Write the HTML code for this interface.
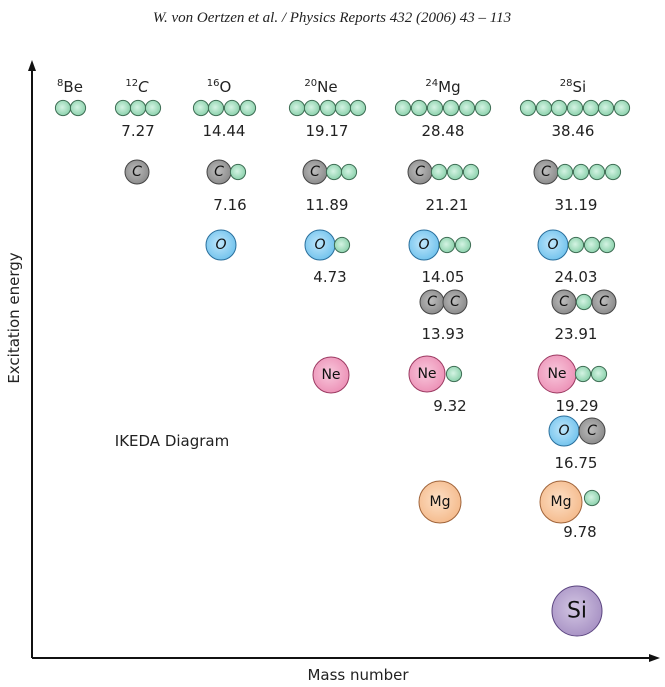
<!DOCTYPE html>
<html><head><meta charset="utf-8"><style>
html,body{margin:0;padding:0;background:#fff;width:665px;height:687px;overflow:hidden}
svg{display:block}
.t{font-family:"DejaVu Sans","Liberation Sans",sans-serif;font-size:15px;fill:#222;text-anchor:middle}
.c{font-family:"DejaVu Sans","Liberation Sans",sans-serif;font-style:italic;font-size:14px;fill:#111;text-anchor:middle;dominant-baseline:central}
</style></head><body>
<svg width="665" height="687" viewBox="0 0 665 687" xmlns="http://www.w3.org/2000/svg">
<defs>
<radialGradient id="ga" cx="0.45" cy="0.45" r="0.6"><stop offset="0" stop-color="#d4f3e3"/><stop offset="1" stop-color="#86cfa8"/></radialGradient>
<radialGradient id="gc" cx="0.45" cy="0.45" r="0.6"><stop offset="0" stop-color="#bdbdbd"/><stop offset="1" stop-color="#888"/></radialGradient>
<radialGradient id="go" cx="0.45" cy="0.45" r="0.6"><stop offset="0" stop-color="#bfe6fb"/><stop offset="1" stop-color="#6ec1ec"/></radialGradient>
<radialGradient id="gn" cx="0.45" cy="0.45" r="0.6"><stop offset="0" stop-color="#f8c8dc"/><stop offset="1" stop-color="#ec8fb5"/></radialGradient>
<radialGradient id="gm" cx="0.45" cy="0.45" r="0.6"><stop offset="0" stop-color="#fde0c6"/><stop offset="1" stop-color="#f4b98a"/></radialGradient>
<radialGradient id="gs" cx="0.45" cy="0.45" r="0.6"><stop offset="0" stop-color="#d3c6e3"/><stop offset="1" stop-color="#a690c3"/></radialGradient>
<circle id="a" r="7.6" fill="url(#ga)" stroke="#3f6e55" stroke-width="1"/>
</defs>
<text x="332" y="22" font-family="Liberation Serif,serif" font-style="italic" font-size="15" text-anchor="middle" fill="#222">W. von Oertzen et al. / Physics Reports 432 (2006) 43 – 113</text>
<!-- axes -->
<line x1="32" y1="658" x2="32" y2="68" stroke="#111" stroke-width="2"/>
<polygon points="32,60 28,71 36,71" fill="#111"/>
<line x1="32" y1="658" x2="652" y2="658" stroke="#111" stroke-width="2"/>
<polygon points="660,658 649,654 649,662" fill="#111"/>
<text class="t" transform="translate(19,318) rotate(-90)" font-size="14">Excitation energy</text>
<text class="t" x="358" y="680" font-size="14">Mass number</text>
<text class="t" x="172" y="446" font-size="14">IKEDA Diagram</text>
<!-- headers -->
<text class="t" x="70" y="92"><tspan font-size="10" dy="-6">8</tspan><tspan dy="6">Be</tspan></text>
<text class="t" x="137" y="92"><tspan font-size="10" dy="-6">12</tspan><tspan dy="6" font-style="italic">C</tspan></text>
<text class="t" x="219" y="92"><tspan font-size="10" dy="-6">16</tspan><tspan dy="6">O</tspan></text>
<text class="t" x="321" y="92"><tspan font-size="10" dy="-6">20</tspan><tspan dy="6">Ne</tspan></text>
<text class="t" x="443" y="92"><tspan font-size="10" dy="-6">24</tspan><tspan dy="6">Mg</tspan></text>
<text class="t" x="573" y="92"><tspan font-size="10" dy="-6">28</tspan><tspan dy="6">Si</tspan></text>
<!-- row1 alpha chains -->
<use href="#a" x="63" y="108"/><use href="#a" x="78" y="108"/>
<use href="#a" x="123" y="108"/><use href="#a" x="138" y="108"/><use href="#a" x="153" y="108"/>
<use href="#a" x="201" y="108"/><use href="#a" x="216" y="108"/><use href="#a" x="232" y="108"/><use href="#a" x="248" y="108"/>
<use href="#a" x="297" y="108"/><use href="#a" x="312" y="108"/><use href="#a" x="328" y="108"/><use href="#a" x="343" y="108"/><use href="#a" x="358" y="108"/>
<use href="#a" x="403" y="108"/><use href="#a" x="419" y="108"/><use href="#a" x="435" y="108"/><use href="#a" x="451" y="108"/><use href="#a" x="467" y="108"/><use href="#a" x="483" y="108"/>
<use href="#a" x="528" y="108"/><use href="#a" x="544" y="108"/><use href="#a" x="559" y="108"/><use href="#a" x="575" y="108"/><use href="#a" x="591" y="108"/><use href="#a" x="606" y="108"/><use href="#a" x="622" y="108"/>
<text class="t" x="138" y="136">7.27</text>
<text class="t" x="224" y="136">14.44</text>
<text class="t" x="327" y="136">19.17</text>
<text class="t" x="443" y="136">28.48</text>
<text class="t" x="573" y="136">38.46</text>
<!-- row2 C -->
<circle cx="137" cy="172" r="12" fill="url(#gc)" stroke="#444"/><text class="c" x="137" y="172">C</text>
<circle cx="219" cy="172" r="12" fill="url(#gc)" stroke="#444"/><text class="c" x="219" y="172">C</text><use href="#a" x="238" y="172"/>
<circle cx="315" cy="172" r="12" fill="url(#gc)" stroke="#444"/><text class="c" x="315" y="172">C</text><use href="#a" x="334" y="172"/><use href="#a" x="349" y="172"/>
<circle cx="420" cy="172" r="12" fill="url(#gc)" stroke="#444"/><text class="c" x="420" y="172">C</text><use href="#a" x="439" y="172"/><use href="#a" x="455" y="172"/><use href="#a" x="471" y="172"/>
<circle cx="546" cy="172" r="12" fill="url(#gc)" stroke="#444"/><text class="c" x="546" y="172">C</text><use href="#a" x="565" y="172"/><use href="#a" x="581" y="172"/><use href="#a" x="597" y="172"/><use href="#a" x="613" y="172"/>
<text class="t" x="230" y="210">7.16</text>
<text class="t" x="327" y="210">11.89</text>
<text class="t" x="447" y="210">21.21</text>
<text class="t" x="576" y="210">31.19</text>
<!-- row3 O -->
<circle cx="221" cy="245" r="15" fill="url(#go)" stroke="#2a6f9c"/><text class="c" x="221" y="245">O</text>
<circle cx="320" cy="245" r="15" fill="url(#go)" stroke="#2a6f9c"/><text class="c" x="320" y="245">O</text><use href="#a" x="342" y="245"/>
<circle cx="424" cy="245" r="15" fill="url(#go)" stroke="#2a6f9c"/><text class="c" x="424" y="245">O</text><use href="#a" x="447" y="245"/><use href="#a" x="463" y="245"/>
<circle cx="553" cy="245" r="15" fill="url(#go)" stroke="#2a6f9c"/><text class="c" x="553" y="245">O</text><use href="#a" x="576" y="245"/><use href="#a" x="592" y="245"/><use href="#a" x="607" y="245"/>
<text class="t" x="330" y="282">4.73</text>
<text class="t" x="443" y="282">14.05</text>
<text class="t" x="576" y="282">24.03</text>
<!-- row4 CC -->
<circle cx="432" cy="302" r="12" fill="url(#gc)" stroke="#444"/><text class="c" x="432" y="302">C</text>
<circle cx="455" cy="302" r="12" fill="url(#gc)" stroke="#444"/><text class="c" x="455" y="302">C</text>
<circle cx="564" cy="302" r="12" fill="url(#gc)" stroke="#444"/><text class="c" x="564" y="302">C</text><use href="#a" x="584" y="302"/>
<circle cx="604" cy="302" r="12" fill="url(#gc)" stroke="#444"/><text class="c" x="604" y="302">C</text>
<text class="t" x="443" y="339">13.93</text>
<text class="t" x="576" y="339">23.91</text>
<!-- row5 Ne -->
<circle cx="331" cy="375" r="18" fill="url(#gn)" stroke="#9c3a62"/><text class="c" x="331" y="375" style="font-style:normal">Ne</text>
<circle cx="427" cy="374" r="18" fill="url(#gn)" stroke="#9c3a62"/><text class="c" x="427" y="374" style="font-style:normal">Ne</text><use href="#a" x="454" y="374"/>
<circle cx="557" cy="374" r="19" fill="url(#gn)" stroke="#9c3a62"/><text class="c" x="557" y="374" style="font-style:normal">Ne</text><use href="#a" x="583" y="374"/><use href="#a" x="599" y="374"/>
<text class="t" x="450" y="411">9.32</text>
<text class="t" x="577" y="411">19.29</text>
<!-- row6 OC -->
<circle cx="564" cy="431" r="15" fill="url(#go)" stroke="#2a6f9c"/><text class="c" x="564" y="431">O</text>
<circle cx="592" cy="431" r="13" fill="url(#gc)" stroke="#444"/><text class="c" x="592" y="431">C</text>
<text class="t" x="576" y="468">16.75</text>
<!-- row7 Mg -->
<circle cx="440" cy="502" r="21" fill="url(#gm)" stroke="#a0643a"/><text class="c" x="440" y="502" style="font-style:normal">Mg</text>
<circle cx="561" cy="502" r="21" fill="url(#gm)" stroke="#a0643a"/><text class="c" x="561" y="502" style="font-style:normal">Mg</text><use href="#a" x="592" y="498"/>
<text class="t" x="580" y="537">9.78</text>
<!-- Si -->
<circle cx="577" cy="611" r="25" fill="url(#gs)" stroke="#5b4580"/><text class="c" x="577" y="611" style="font-style:normal;font-size:22px">Si</text>
</svg>
</body></html>
